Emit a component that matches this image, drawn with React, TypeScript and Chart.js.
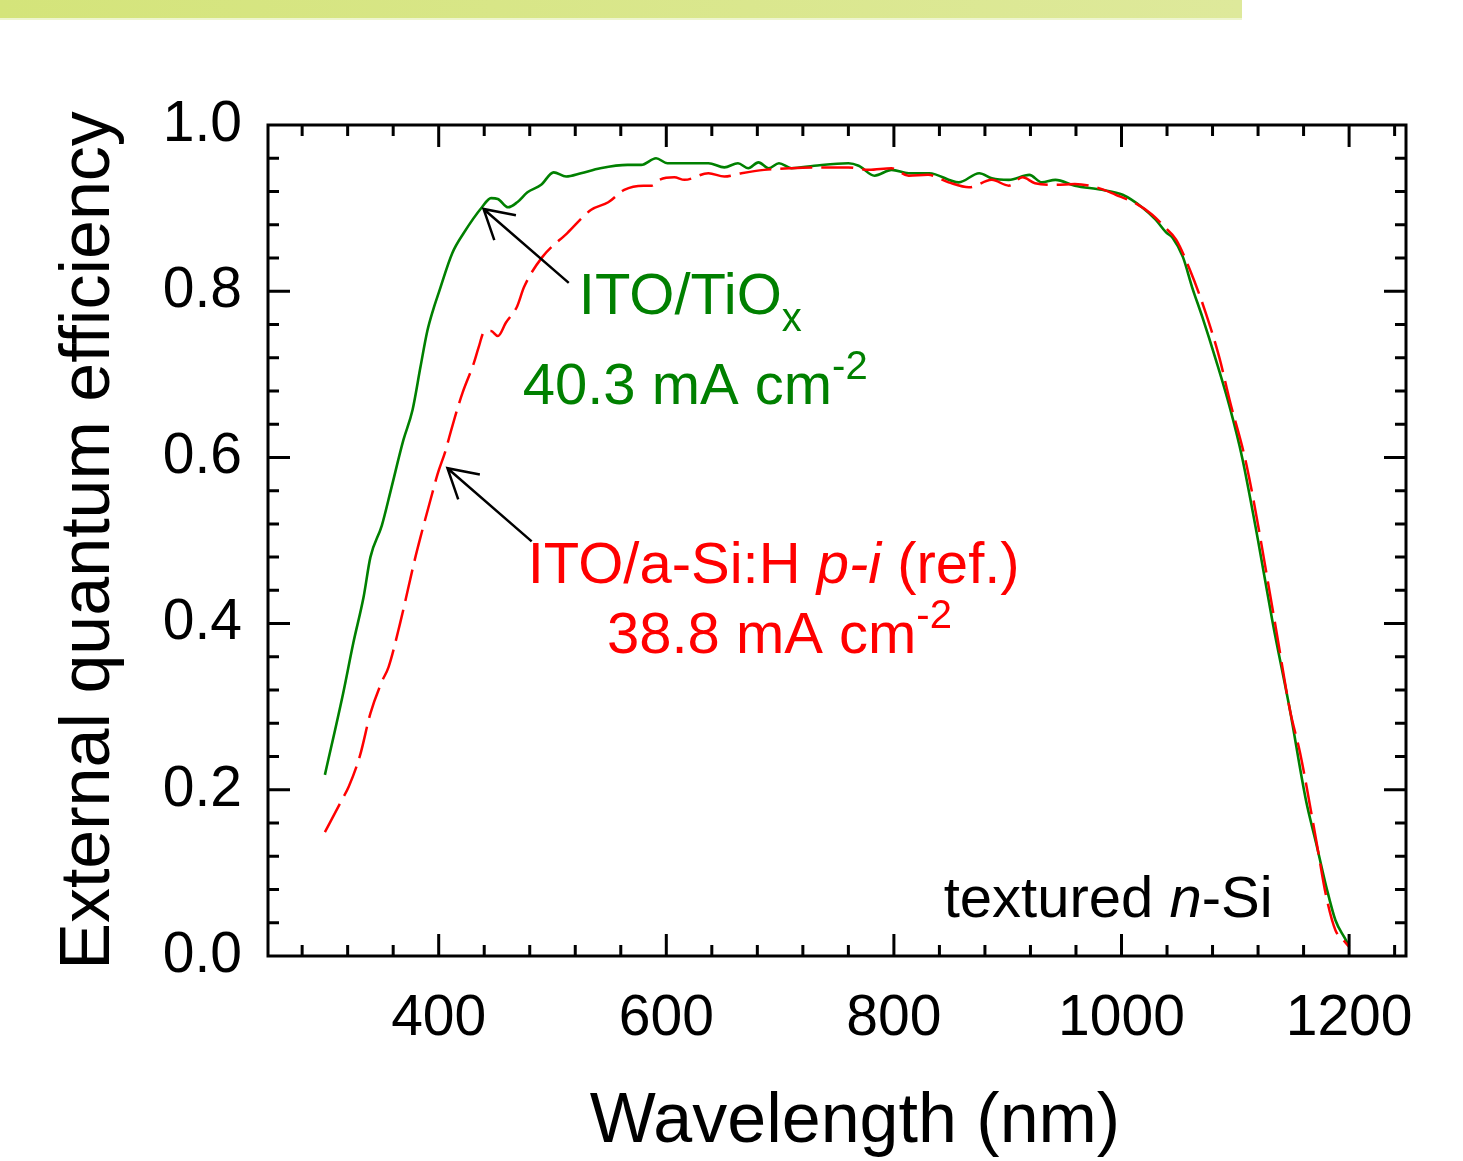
import React, { useEffect, useRef } from 'react';
import { Chart, registerables } from 'chart.js';

Chart.register(...registerables);

const FONT = '"Liberation Sans", Arial, Helvetica, sans-serif';

// ITO/TiOx (green, solid)
const WL_TIOX = [300, 316, 325, 334, 340, 350, 358, 369, 377, 384, 390, 395, 400, 412, 422, 438, 446, 452, 461, 469, 478, 490, 501, 512, 525, 542, 566, 578, 591, 601, 637, 651, 663, 672, 681, 690, 699, 710, 730, 760, 769, 783, 798, 813, 831, 857, 875, 886, 901, 919, 930, 942, 959, 983, 1001, 1018, 1030, 1039, 1045, 1054, 1062, 1071, 1083, 1095, 1106, 1120, 1133, 1148, 1162, 1171, 1180, 1188, 1196, 1200];
const EQE_TIOX = [0.218, 0.316, 0.377, 0.432, 0.480, 0.518, 0.561, 0.621, 0.657, 0.709, 0.752, 0.777, 0.798, 0.846, 0.870, 0.901, 0.912, 0.911, 0.901, 0.907, 0.919, 0.928, 0.943, 0.938, 0.942, 0.948, 0.952, 0.952, 0.960, 0.954, 0.954, 0.949, 0.954, 0.948, 0.955, 0.948, 0.954, 0.948, 0.951, 0.954, 0.951, 0.939, 0.946, 0.942, 0.942, 0.931, 0.942, 0.936, 0.934, 0.940, 0.931, 0.934, 0.927, 0.922, 0.916, 0.901, 0.886, 0.871, 0.864, 0.841, 0.805, 0.769, 0.717, 0.661, 0.600, 0.500, 0.400, 0.296, 0.188, 0.136, 0.083, 0.043, 0.022, 0.012];

// ITO/a-Si:H p-i reference (red, dashed)
const WL_REF = [300, 315, 321, 331, 340, 350, 356, 366, 379, 384, 394, 399, 406, 409, 417, 421, 431, 435, 440, 446, 452, 459, 469, 475, 491, 513, 534, 549, 563, 580, 587, 594, 607, 616, 637, 651, 666, 686, 710, 739, 760, 778, 798, 813, 830, 848, 866, 886, 901, 913, 924, 942, 959, 980, 995, 1012, 1027, 1038, 1048, 1060, 1074, 1086, 1095, 1110, 1135, 1148, 1157, 1171, 1180, 1188, 1195, 1200];
const EQE_REF = [0.149, 0.188, 0.204, 0.242, 0.292, 0.330, 0.348, 0.400, 0.477, 0.504, 0.555, 0.580, 0.608, 0.623, 0.661, 0.678, 0.714, 0.732, 0.751, 0.752, 0.746, 0.762, 0.782, 0.805, 0.841, 0.870, 0.898, 0.907, 0.922, 0.927, 0.927, 0.934, 0.937, 0.934, 0.942, 0.938, 0.942, 0.946, 0.948, 0.949, 0.949, 0.946, 0.948, 0.939, 0.940, 0.931, 0.925, 0.934, 0.927, 0.937, 0.930, 0.928, 0.929, 0.924, 0.916, 0.906, 0.892, 0.877, 0.862, 0.826, 0.774, 0.720, 0.669, 0.590, 0.400, 0.296, 0.244, 0.140, 0.071, 0.031, 0.019, 0.011];

const X_TICKS = [400, 600, 800, 1000, 1200];
const Y_TICKS = [0, 0.2, 0.4, 0.6, 0.8, 1.0];
const X_MINOR_START = 280;
const X_MINOR_STEP = 40;
const Y_MINOR_STEP = 0.04;

const GREEN = '#008000';
const RED = '#ff0000';

type Run = { text: string; italic?: boolean; size?: number; dy?: number };

function drawRuns(ctx: CanvasRenderingContext2D, x: number, y: number, runs: Run[], color: string) {
  let cx = x;
  ctx.fillStyle = color;
  ctx.textAlign = 'left';
  ctx.textBaseline = 'alphabetic';
  for (const r of runs) {
    const size = r.size ?? 58;
    ctx.font = `${r.italic ? 'italic ' : ''}${size}px ${FONT}`;
    ctx.fillText(r.text, cx, y + (r.dy ?? 0));
    cx += ctx.measureText(r.text).width;
  }
}

function drawArrow(ctx: CanvasRenderingContext2D, x0: number, y0: number, x1: number, y1: number) {
  // tail (x0,y0) -> tip (x1,y1)
  const ang = Math.atan2(y0 - y1, x0 - x1);
  const L = 33;
  const a = Math.PI / 6;
  ctx.beginPath();
  ctx.moveTo(x0, y0);
  ctx.lineTo(x1, y1);
  ctx.moveTo(x1 + L * Math.cos(ang + a), y1 + L * Math.sin(ang + a));
  ctx.lineTo(x1, y1);
  ctx.lineTo(x1 + L * Math.cos(ang - a), y1 + L * Math.sin(ang - a));
  ctx.stroke();
}

const framePlugin = {
  id: 'frameAndNotes',
  afterDraw(chart: any) {
    const { ctx, chartArea, scales } = chart;
    const { left, right, top, bottom } = chartArea;
    const xs = scales.x;
    const ys = scales.y;
    ctx.save();
    ctx.strokeStyle = '#000';
    ctx.lineWidth = 3;
    ctx.strokeRect(left, top, right - left, bottom - top);

    // inward ticks, all four sides
    const MAJ = 22;
    const MIN = 11;
    ctx.beginPath();
    for (let v = X_MINOR_START; v < xs.max; v += X_MINOR_STEP) {
      const px = xs.getPixelForValue(v);
      const len = v % 200 === 0 ? MAJ : MIN;
      ctx.moveTo(px, bottom);
      ctx.lineTo(px, bottom - len);
      ctx.moveTo(px, top);
      ctx.lineTo(px, top + len);
    }
    for (let i = 1; i < Math.round(1 / Y_MINOR_STEP); i++) {
      const py = ys.getPixelForValue(i * Y_MINOR_STEP);
      const len = i % 5 === 0 ? MAJ : MIN;
      ctx.moveTo(left, py);
      ctx.lineTo(left + len, py);
      ctx.moveTo(right, py);
      ctx.lineTo(right - len, py);
    }
    ctx.stroke();

    // arrows
    ctx.lineWidth = 2.5;
    drawArrow(ctx, xs.getPixelForValue(514.3), ys.getPixelForValue(0.81), xs.getPixelForValue(439.4), ys.getPixelForValue(0.899));
    drawArrow(ctx, xs.getPixelForValue(481.7), ys.getPixelForValue(0.499), xs.getPixelForValue(407.7), ys.getPixelForValue(0.587));

    // annotations
    drawRuns(ctx, xs.getPixelForValue(523.1), ys.getPixelForValue(0.7726), [
      { text: 'ITO/TiO' },
      { text: 'x', size: 40, dy: 17 },
    ], GREEN);
    drawRuns(ctx, xs.getPixelForValue(473.8), ys.getPixelForValue(0.6643), [
      { text: '40.3 mA cm' },
      { text: '-2', size: 40, dy: -25 },
    ], GREEN);
    drawRuns(ctx, xs.getPixelForValue(478.2), ys.getPixelForValue(0.4489), [
      { text: 'ITO/a-Si:H ' },
      { text: 'p-i', italic: true },
      { text: ' (ref.)' },
    ], RED);
    drawRuns(ctx, xs.getPixelForValue(547.8), ys.getPixelForValue(0.3646), [
      { text: '38.8 mA cm' },
      { text: '-2', size: 40, dy: -25 },
    ], RED);
    drawRuns(ctx, xs.getPixelForValue(843.8), ys.getPixelForValue(0.0469), [
      { text: 'textured ' },
      { text: 'n', italic: true },
      { text: '-Si' },
    ], '#000');

    // x axis title
    ctx.font = `70px ${FONT}`;
    ctx.fillStyle = '#000';
    ctx.textAlign = 'center';
    ctx.textBaseline = 'alphabetic';
    ctx.fillText('Wavelength (nm)', (left + right) / 2 + 18, bottom + 186);
    ctx.restore();
  },
};

export default function App() {
  const ref = useRef<HTMLCanvasElement>(null);
  useEffect(() => {
    const canvas = ref.current;
    if (!canvas) return;
    const chart = new Chart(canvas, {
      type: 'line',
      data: {
        datasets: [
          {
            label: 'ITO/a-Si:H p-i (ref.)',
            data: WL_REF.map((w, i) => ({ x: w, y: EQE_REF[i] })),
            borderColor: RED,
            borderWidth: 2.5,
            borderDash: [32, 9],
            pointRadius: 0,
            fill: false,
            cubicInterpolationMode: 'monotone',
            order: 0,
          },
          {
            label: 'ITO/TiOx',
            data: WL_TIOX.map((w, i) => ({ x: w, y: EQE_TIOX[i] })),
            borderColor: GREEN,
            borderWidth: 2.6,
            pointRadius: 0,
            fill: false,
            cubicInterpolationMode: 'monotone',
            order: 1,
          },
        ],
      },
      options: {
        responsive: false,
        animation: false,
        devicePixelRatio: 1,
        layout: { padding: { top: 125, right: 57, left: 0, bottom: 0 } },
        plugins: { legend: { display: false }, tooltip: { enabled: false }, title: { display: false } },
        scales: {
          x: {
            type: 'linear',
            min: 250,
            max: 1250,
            grid: { display: false, drawTicks: false },
            border: { display: false },
            afterBuildTicks: (s: any) => {
              s.ticks = X_TICKS.map((v) => ({ value: v }));
            },
            afterFit: (s: any) => {
              s.height = 205;
            },
            ticks: {
              font: { family: FONT, size: 57 },
              color: '#000',
              padding: 29,
              maxRotation: 0,
              autoSkip: false,
              callback: (v: any) => String(v),
            },
          },
          y: {
            type: 'linear',
            min: 0,
            max: 1,
            grid: { display: false, drawTicks: false },
            border: { display: false },
            afterBuildTicks: (s: any) => {
              s.ticks = Y_TICKS.map((v) => ({ value: v }));
            },
            afterFit: (s: any) => {
              s.width = 268;
            },
            ticks: {
              font: { family: FONT, size: 57 },
              color: '#000',
              padding: 26,
              autoSkip: false,
              callback: (v: any) => Number(v).toFixed(1),
            },
            title: {
              display: true,
              text: 'External quantum efficiency',
              font: { family: FONT, size: 70 },
              color: '#000',
              padding: { top: 48, bottom: 0 },
            },
          },
        },
      },
      plugins: [framePlugin],
    } as any);
    return () => chart.destroy();
  }, []);

  return (
    <div style={{ position: 'fixed', left: 0, top: 0, width: 1463, height: 1161, background: '#ffffff' }}>
      <div
        style={{
          position: 'absolute',
          left: 0,
          top: 0,
          width: 1242,
          height: 18,
          background: 'linear-gradient(to right, #d4e47a, #dee99b)',
        }}
      />
      <div style={{ position: 'absolute', left: 0, top: 18, width: 1242, height: 2, background: '#eef5cf' }} />
      <canvas ref={ref} width={1463} height={1161} style={{ position: 'absolute', left: 0, top: 0 }} />
    </div>
  );
}
